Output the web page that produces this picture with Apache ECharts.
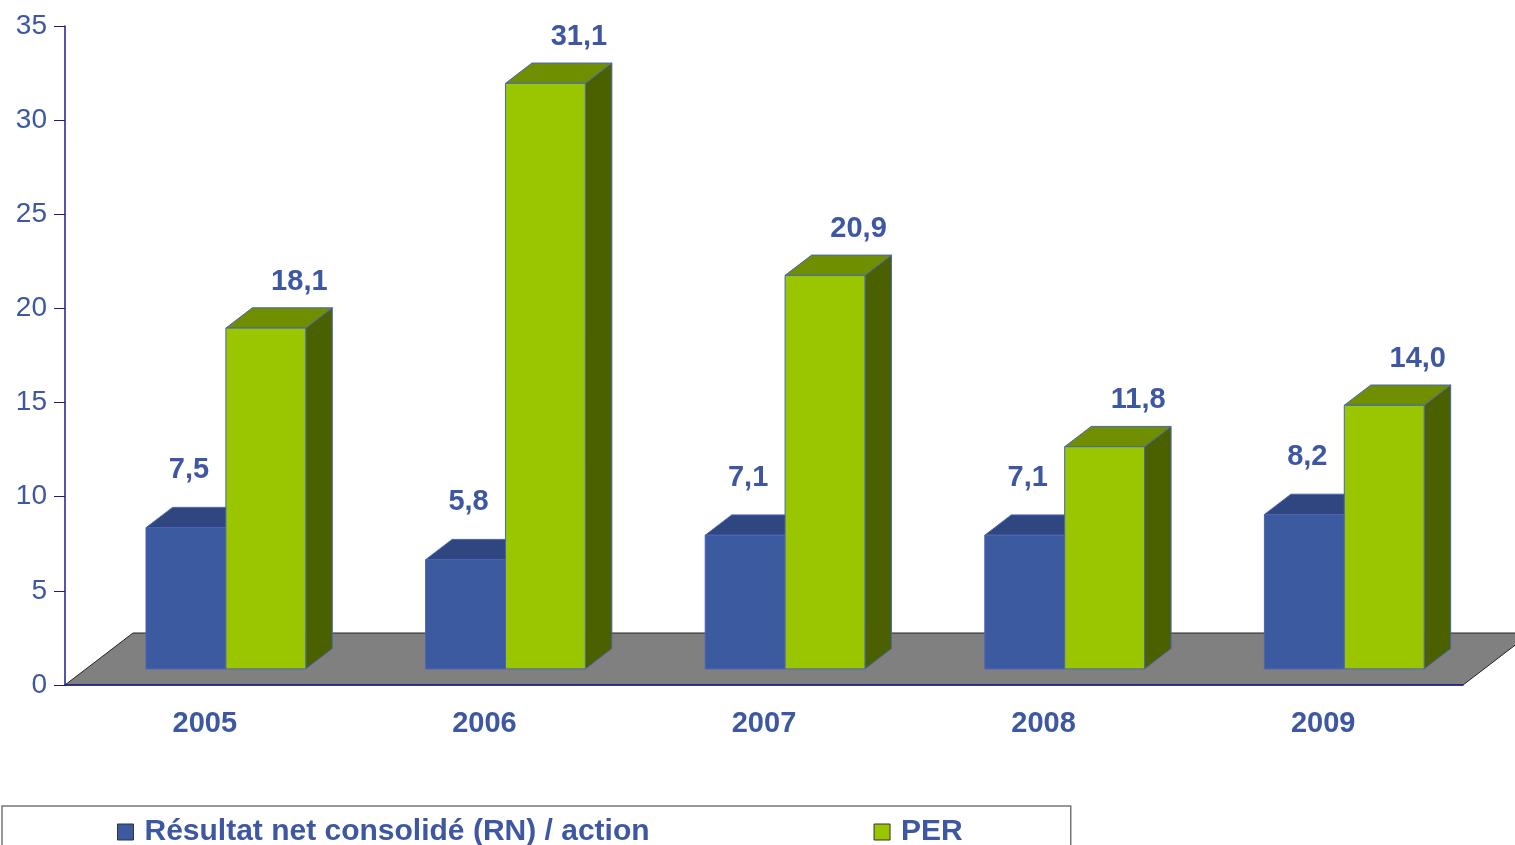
<!DOCTYPE html>
<html>
<head>
    <meta charset="utf-8">
    <title>RN / action et PER</title>
    <script src="https://cdn.jsdelivr.net/npm/echarts@6/dist/echarts.min.js"></script>
    <style>
        html, body { margin: 0; padding: 0; background: #fff; }
    </style>
</head>
<body>
<div id="main" style="width: 1515px;height:845px"></div>
<script type="text/javascript">

    // données
    var annees = ['2005', '2006', '2007', '2008', '2009'];
    var rnParAction = [7.5, 5.8, 7.1, 7.1, 8.2];
    var per = [18.1, 31.1, 20.9, 11.8, 14.0];
    var nomsSeries = ['Résultat net consolidé (RN) / action', 'PER'];

    var bleuTexte = '#3d57a3';
    var axeCouleur = '#1c1c8e';
    var police = 'Liberation Sans, Arial, sans-serif';

    // effet 3D : profondeur du sol et position des barres dans cette profondeur
    var SOL_DX = 68, SOL_DY = -52;
    var AVANT = 0.31;      // face avant des barres
    var PROF = 0.39;       // épaisseur des barres

    var faces = [
        { avant: '#3c5aa0', dessus: '#2f4680', cote: '#24386c' },
        { avant: '#99c600', dessus: '#6f8f00', cote: '#4b6100' }
    ];

    function fmt(v) {
        return v.toFixed(1).replace('.', ',');
    }

    function barre3D(idx) {
        return function (params, api) {
            var cat = api.value(0);
            var val = api.value(1);
            var bande = api.size([1, 0])[0];
            var largeur = bande * 0.2857;
            var bas = api.coord([cat, 0]);
            var haut = api.coord([cat, val]);
            var ox = SOL_DX * AVANT, oy = SOL_DY * AVANT;
            var dx = SOL_DX * PROF, dy = SOL_DY * PROF;
            var x0 = bas[0] + ox - largeur + idx * largeur;
            var x1 = x0 + largeur;
            var yb = bas[1] + oy;
            var yt = haut[1] + oy;
            var c = faces[idx];
            var trait = { stroke: '#4a64b4', lineWidth: 1 };

            var labelX = idx === 0 ? (x0 + x1) / 2 + 3 : (x0 + x1) / 2 + dx + 7;
            var labelY = idx === 0 ? yt + dy - 37 : yt + dy - 26;

            return {
                type: 'group',
                children: [
                    {
                        type: 'polygon',
                        shape: { points: [[x1, yb], [x1 + dx, yb + dy], [x1 + dx, yt + dy], [x1, yt]] },
                        style: Object.assign({ fill: c.cote }, trait)
                    },
                    {
                        type: 'polygon',
                        shape: { points: [[x0, yt], [x1, yt], [x1 + dx, yt + dy], [x0 + dx, yt + dy]] },
                        style: Object.assign({ fill: c.dessus }, trait)
                    },
                    {
                        type: 'rect',
                        shape: { x: x0, y: yt, width: largeur, height: yb - yt },
                        style: Object.assign({ fill: c.avant }, trait)
                    },
                    {
                        type: 'text',
                        x: labelX,
                        y: labelY,
                        style: {
                            text: fmt(val),
                            fill: bleuTexte,
                            font: 'bold 29px ' + police,
                            align: 'center',
                            verticalAlign: 'middle'
                        }
                    }
                ]
            };
        };
    }

    function sol(params, api) {
        var g = params.coordSys;
        var yb = g.y + g.height;
        return {
            type: 'polygon',
            shape: {
                points: [[g.x, yb], [g.x + g.width, yb],
                    [g.x + g.width + SOL_DX, yb + SOL_DY], [g.x + SOL_DX, yb + SOL_DY]]
            },
            style: { fill: '#808080', stroke: '#222', lineWidth: 1 }
        };
    }

    var myChart = echarts.init(document.getElementById('main'));

    myChart.setOption({
        animation: false,
        color: [faces[0].avant, faces[1].avant],
        grid: { left: 65, right: 52, top: 26, bottom: 160 },
        xAxis: [
            {
                type: 'category',
                data: annees,
                position: 'bottom',
                axisLine: { lineStyle: { color: axeCouleur, width: 1.5 } },
                axisTick: { length: 11, lineStyle: { color: axeCouleur } },
                axisLabel: {
                    color: bleuTexte, fontSize: 29, fontWeight: 'bold',
                    fontFamily: police, margin: 24
                }
            },
            {
                // graduations au centre des catégories
                type: 'category',
                data: annees,
                position: 'bottom',
                axisLine: { show: false },
                axisTick: { alignWithLabel: true, length: 11, lineStyle: { color: axeCouleur } },
                axisLabel: { show: false }
            }
        ],
        yAxis: {
            type: 'value',
            min: 0,
            max: 35,
            interval: 5,
            splitLine: { show: false },
            axisLine: { show: true, lineStyle: { color: axeCouleur, width: 1.5 } },
            axisTick: { show: true, length: 11, lineStyle: { color: axeCouleur } },
            axisLabel: { color: bleuTexte, fontSize: 28, fontFamily: police, margin: 18 }
        },
        legend: {
            data: nomsSeries,
            left: 2,
            top: 806,
            orient: 'horizontal',
            padding: [11, 108, 20, 115],
            itemGap: 224,
            itemWidth: 16,
            itemHeight: 16,
            icon: 'rect',
            borderColor: '#777',
            borderWidth: 1.5,
            itemStyle: { borderColor: '#333', borderWidth: 1 },
            textStyle: {
                color: bleuTexte, fontSize: 30, fontWeight: 'bold',
                fontFamily: police, padding: [0, 0, 0, 6]
            }
        },
        series: [
            {
                type: 'custom',
                name: 'sol',
                z: -1,
                silent: true,
                renderItem: sol,
                data: [0]
            },
            {
                type: 'custom',
                name: nomsSeries[0],
                itemStyle: { color: faces[0].avant },
                renderItem: barre3D(0),
                encode: { x: 0, y: 1 },
                data: rnParAction.map(function (v, i) { return [i, v]; })
            },
            {
                type: 'custom',
                name: nomsSeries[1],
                itemStyle: { color: faces[1].avant },
                renderItem: barre3D(1),
                encode: { x: 0, y: 1 },
                data: per.map(function (v, i) { return [i, v]; })
            }
        ]
    });
</script>
</body>
</html>
